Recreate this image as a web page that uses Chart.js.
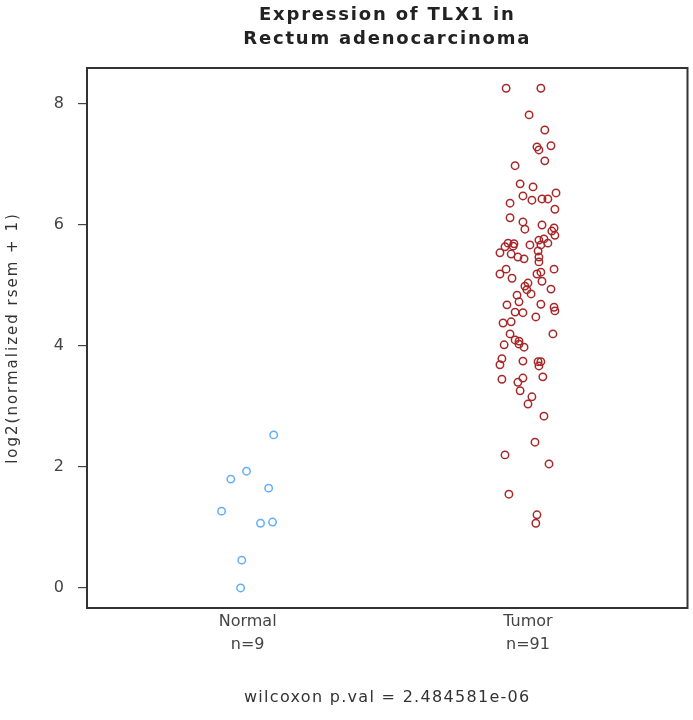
<!DOCTYPE html>
<html>
<head>
<meta charset="utf-8">
<title>Expression of TLX1 in Rectum adenocarcinoma</title>
<script src="https://cdn.jsdelivr.net/npm/chart.js@4.4.1/dist/chart.umd.min.js"></script>
<style>
  html, body { margin: 0; padding: 0; background: #fff; }
  #wrap { width: 693px; height: 720px; }
</style>
</head>
<body>
<div id="wrap"><canvas id="strip"></canvas></div>
<script>
// ── Data ──────────────────────────────────────────────
const groups = ['Normal', 'Tumor'];
const groupCounts = ['n=9', 'n=91'];
const yTicks = [0, 2, 4, 6, 8];

const normalValues = [2.53, 1.93, 1.80, 1.65, 1.27, 1.07, 1.09, 0.46, 0.00];
const normalJitter = [0.093, -0.004, -0.060, 0.075, -0.093, 0.046, 0.089, -0.021, -0.025];

const tumorValues = [
  8.26, 8.26, 7.82, 7.57, 7.29, 7.24, 7.31, 7.06, 6.98, 6.68,
  6.63, 6.48, 6.41, 6.43, 6.43, 6.53, 6.36, 6.26, 6.12, 6.05,
  5.93, 6.00, 5.90, 5.83, 5.77, 5.67, 5.70, 5.65, 5.64, 5.54,
  5.67, 5.57, 5.70, 5.47, 5.44, 5.47, 5.39, 5.27, 5.19, 5.12,
  5.22, 5.27, 5.04, 4.99, 5.07, 4.94, 4.84, 4.86, 4.73, 4.68,
  4.69, 4.64, 4.58, 4.56, 4.55, 4.48, 4.38, 4.40, 4.20, 4.20,
  4.10, 4.08, 4.02, 3.98, 3.79, 3.69, 3.75, 3.74, 3.74, 3.45,
  3.47, 3.40, 3.49, 3.26, 3.16, 3.04, 2.84, 2.41, 2.20, 2.05,
  1.55, 1.21, 1.07, 5.69, 5.95, 5.19, 5.75, 4.93, 5.52, 4.03,
  3.67
];
const tumorJitter = [
  -0.078, 0.046, 0.004, 0.060, 0.032, 0.039, 0.082, 0.060, -0.046, -0.028,
  0.018, -0.018, 0.014, 0.050, 0.071, 0.100, -0.064, 0.096, -0.064, -0.018,
  -0.011, 0.050, 0.085, 0.096, 0.057, 0.007, -0.071, -0.053, -0.082, -0.100,
  0.046, 0.036, 0.071, -0.036, -0.014, 0.039, 0.039, -0.078, -0.100, -0.057,
  0.046, 0.093, 0.000, -0.011, 0.050, 0.082, -0.039, 0.011, -0.032, -0.075,
  0.046, 0.093, 0.096, -0.046, -0.018, 0.028, -0.089, -0.060, -0.064, 0.089,
  -0.046, -0.032, -0.085, -0.014, -0.093, -0.100, -0.018, 0.036, 0.046, -0.093,
  -0.018, -0.036, 0.053, -0.028, 0.014, 0.000, 0.057, 0.025, -0.082, 0.075,
  -0.068, 0.032, 0.028, -0.050, 0.093, 0.032, 0.039, -0.004, -0.060, -0.032,
  0.039
];

const titleLines = ['Expression of TLX1 in', 'Rectum adenocarcinoma'];
const yTitle = 'log2(normalized rsem + 1)';
const footNote = 'wilcoxon p.val = 2.484581e-06';

// ── Helpers ───────────────────────────────────────────
function toPoints(values, jitter, pos) {
  return values.map((v, i) => ({ x: pos + jitter[i], y: v }));
}

// frame, titles and p-value line (R base-graphics look)
const decorPlugin = {
  id: 'decor',
  afterDraw(chart) {
    const { ctx, chartArea: a } = chart;
    ctx.save();
    ctx.strokeStyle = '#333';
    ctx.lineWidth = 2;
    ctx.strokeRect(a.left, a.top, a.right - a.left, a.bottom - a.top);

    const cx = (a.left + a.right) / 2;
    ctx.fillStyle = '#222';
    ctx.textAlign = 'center';
    ctx.textBaseline = 'middle';
    ctx.font = 'bold 18px "DejaVu Sans"';
    ctx.letterSpacing = '1.8px';
    ctx.fillText(titleLines[0], cx, 15);
    ctx.fillText(titleLines[1], cx, 39);

    ctx.font = '16px "DejaVu Sans"';
    ctx.letterSpacing = '1.3px';
    ctx.fillStyle = '#333';
    ctx.fillText(footNote, cx, 698);

    // y axis title, rotated
    ctx.translate(13, (a.top + a.bottom) / 2);
    ctx.rotate(-Math.PI / 2);
    ctx.font = '15px "DejaVu Sans"';
    ctx.letterSpacing = '2px';
    ctx.fillText(yTitle, 0, 0);
    ctx.restore();
  }
};

// ── Chart ─────────────────────────────────────────────
const ctx = document.getElementById('strip');
new Chart(ctx, {
  type: 'scatter',
  data: {
    datasets: [
      {
        label: groups[0],
        data: toPoints(normalValues, normalJitter, 1),
        borderColor: '#62aefc',
        backgroundColor: 'rgba(0,0,0,0)',
        pointRadius: 3.7,
        borderWidth: 1.5
      },
      {
        label: groups[1],
        data: toPoints(tumorValues, tumorJitter, 2),
        borderColor: '#a8282a',
        backgroundColor: 'rgba(0,0,0,0)',
        pointRadius: 3.7,
        borderWidth: 1.5
      }
    ]
  },
  options: {
    responsive: true,
    maintainAspectRatio: false,
    animation: false,
    layout: { padding: { top: 68, right: 4, left: 0, bottom: 0 } },
    plugins: {
      legend: { display: false },
      tooltip: { enabled: false }
    },
    scales: {
      x: {
        type: 'linear',
        min: 0.427,
        max: 2.569,
        border: { display: false },
        grid: { display: false, drawTicks: false },
        afterFit: s => { s.height = 112; },
        afterBuildTicks: s => { s.ticks = groups.map((g, i) => ({ value: i + 1 })); },
        ticks: {
          padding: 3,
          color: '#444',
          font: { family: 'DejaVu Sans', size: 16, lineHeight: 1.4 },
          callback: (v) => [groups[v - 1], groupCounts[v - 1]]
        }
      },
      y: {
        min: -0.331,
        max: 8.595,
        border: { display: false },
        grid: { drawOnChartArea: false, drawTicks: true, tickLength: 9, color: '#444', lineWidth: 1.2 },
        afterFit: s => { s.width = 87; },
        afterBuildTicks: s => { s.ticks = yTicks.map(v => ({ value: v })); },
        ticks: {
          padding: 14,
          color: '#444',
          font: { family: 'DejaVu Sans', size: 16 }
        }
      }
    }
  },
  plugins: [decorPlugin]
});
</script>
</body>
</html>
